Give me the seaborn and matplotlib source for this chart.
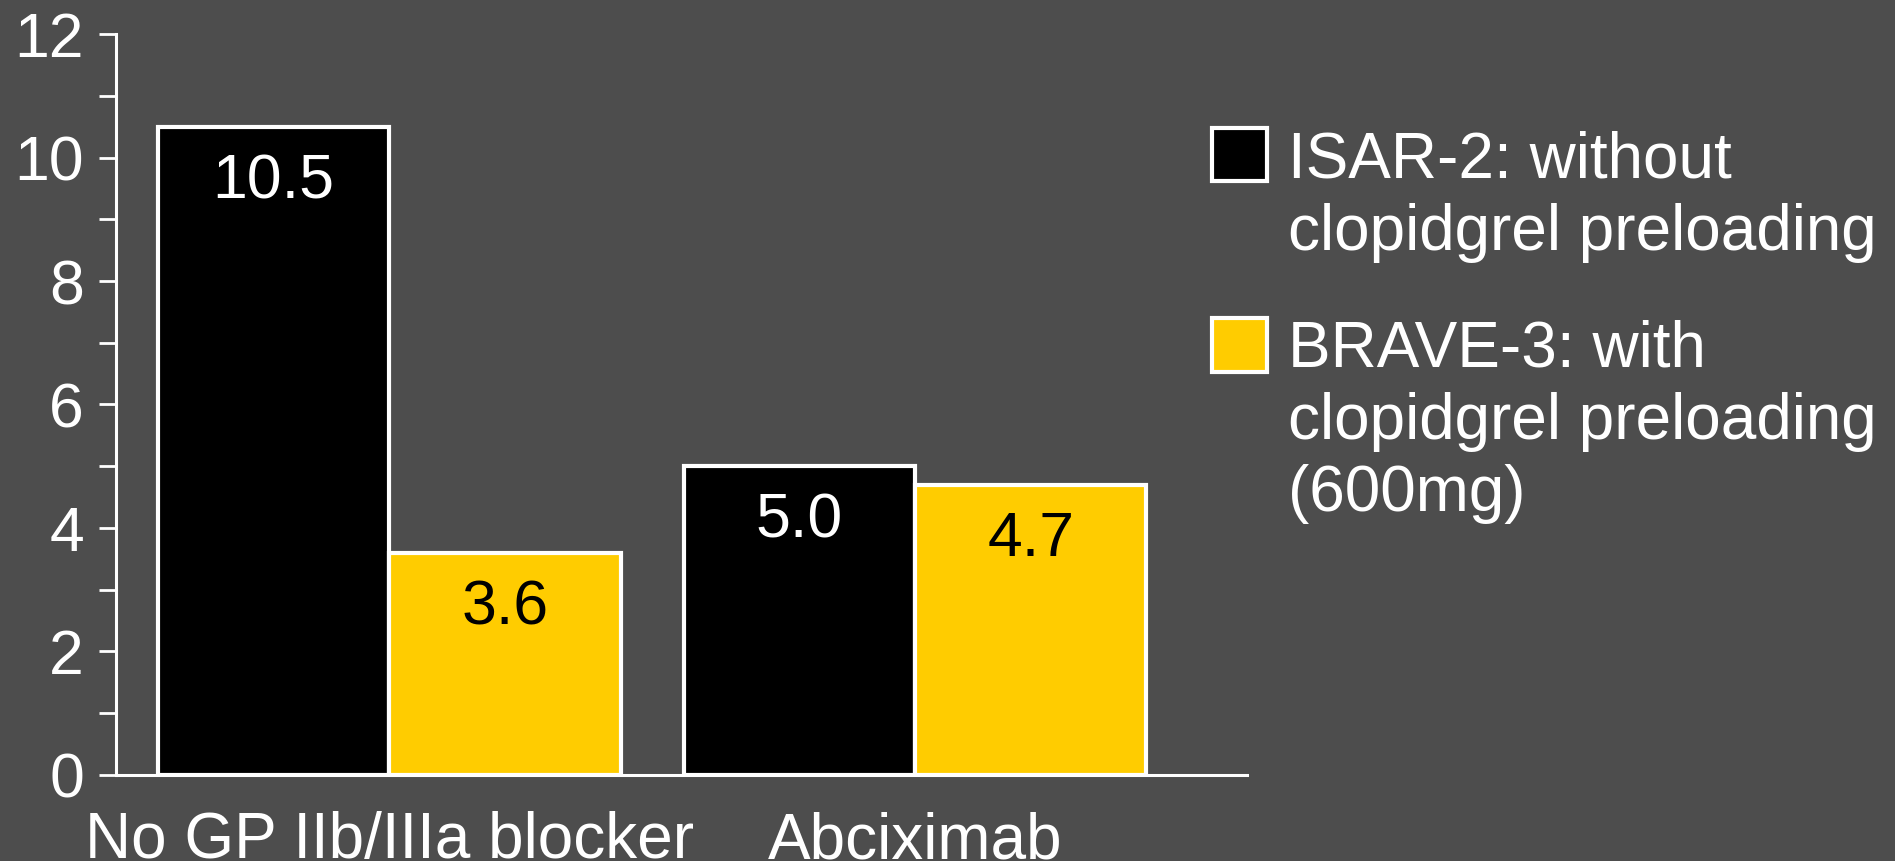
import numpy as np
import pandas as pd
import matplotlib
matplotlib.use("Agg")
import matplotlib.pyplot as plt
import seaborn as sns
from matplotlib.patches import Patch, Rectangle
from matplotlib.legend_handler import HandlerPatch

# Data
groups = ["No GP IIb/IIIa blocker", "Abciximab"]
series = ["ISAR-2: without\nclopidgrel preloading",
          "BRAVE-3: with\nclopidgrel preloading\n(600mg)"]
isar2 = [10.5, 5.0]
brave3 = [3.6, 4.7]
value_labels = [["10.5", "5.0"], ["3.6", "4.7"]]
yticks_major = [0, 2, 4, 6, 8, 10, 12]
yticks_minor = [1, 3, 5, 7, 9, 11]

colors = ["#000000", "#FFCC00"]
label_colors = ["white", "black"]
bg = "#4D4D4D"

df = pd.DataFrame({
    "group": groups * 2,
    "series": [series[0]] * len(groups) + [series[1]] * len(groups),
    "value": isar2 + brave3,
})

sns.set_theme(style="white")
plt.rcParams["font.family"] = ["Liberation Sans", "DejaVu Sans"]

fig = plt.figure(figsize=(18.95, 8.61), dpi=100, facecolor=bg)
ax = fig.add_axes([0.0612, 0.0999, 0.597, 0.8606])
ax.set_facecolor(bg)

sns.barplot(data=df, x="group", y="value", hue="series", palette=colors,
            width=0.88, saturation=1, edgecolor="white", linewidth=3,
            ax=ax, legend=False)

# value labels inside the top of each bar
for cont, labs, c in zip(ax.containers, value_labels, label_colors):
    ax.bar_label(cont, labels=labs, padding=-61, color=c, fontsize=45)

ax.set_xlim(-0.52, 1.632)
ax.set_ylim(0, 12)
ax.set_yticks(yticks_major)
ax.set_yticks(yticks_minor, minor=True)
ax.set_xlabel("")
ax.set_ylabel("")

for s in ["top", "right"]:
    ax.spines[s].set_visible(False)
for s in ["left", "bottom"]:
    ax.spines[s].set_color("white")
    ax.spines[s].set_linewidth(2.2)

ax.tick_params(axis="y", which="both", left=True, length=12, width=2,
               color="white", labelcolor="white", labelsize=45, pad=11)
ax.tick_params(axis="x", bottom=False, labelcolor="white", labelsize=46, pad=20)

# legend: square handles lined up with the first line of each label
LEG_SIZE = 46
LINE_STEP = 1.076 * LEG_SIZE


def square_handle(nlines):
    def make(legend, orig_handle, xdescent, ydescent, width, height, fontsize):
        shift = (nlines - 1) / 2 * LINE_STEP + 7
        return Rectangle((-xdescent, -ydescent + shift), width, height)
    return HandlerPatch(patch_func=make)


handles = [Patch(facecolor=c, edgecolor="white", linewidth=3) for c in colors]
hmap = {h: square_handle(lab.count("\n") + 1) for h, lab in zip(handles, series)}
leg = fig.legend(handles, series, loc="upper left", handler_map=hmap,
                 bbox_to_anchor=(1212 / 1895, 1 - 131 / 861), frameon=False,
                 borderpad=0, borderaxespad=0, handlelength=0.86, handleheight=0.9,
                 handletextpad=0.33, labelspacing=0.89, labelcolor="white",
                 prop={"family": ["Liberation Sans", "DejaVu Sans"], "size": LEG_SIZE})
for t in leg.get_texts():
    t.set_linespacing(1.257)

fig.savefig("out.png", dpi=100, facecolor=bg)
